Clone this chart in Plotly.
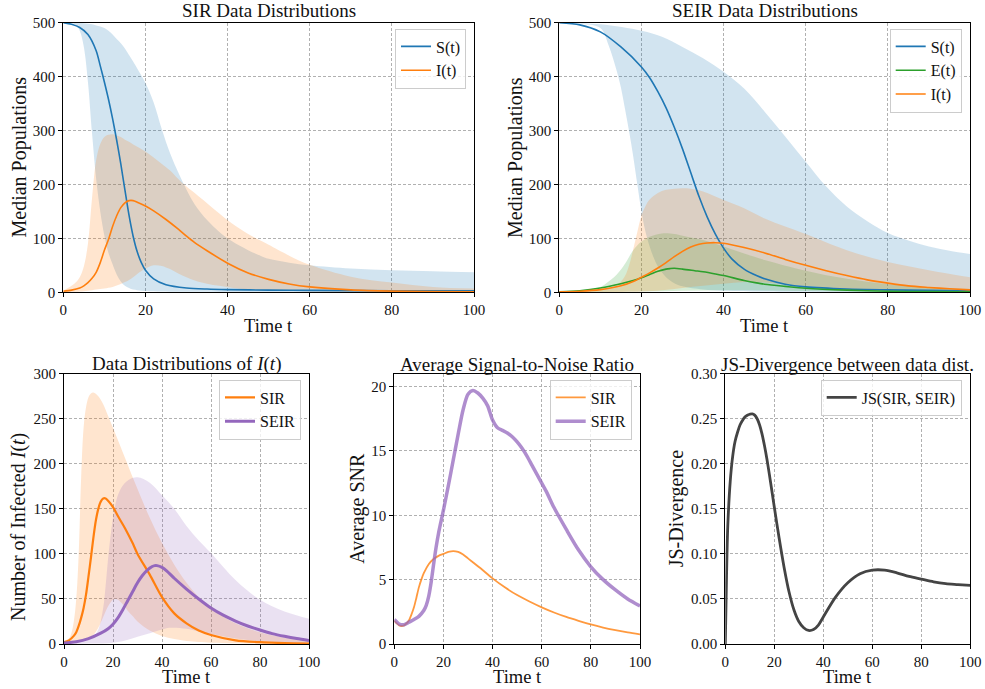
import plotly.graph_objects as go

# ---------------- data ----------------
# Top-left: SIR data distributions
sir_s_t = [0, 2, 4, 6, 8, 9, 10, 11, 12, 13, 14, 15, 16, 17, 18, 19, 20, 22, 25, 30, 35, 40, 50, 60, 80, 100]
sir_s_med = [500, 497, 491, 478, 448, 420, 390, 358, 322, 282, 238, 190, 143, 104, 75, 55, 41, 25, 14, 8, 6, 5, 4, 3.5, 3, 3]

sir_band_t = [0, 2, 3, 4, 5, 6, 7, 8, 9, 10, 11, 12, 13, 14, 15, 16, 17, 18, 20, 22, 24, 26, 28, 30, 32, 35, 38, 41,
              45, 48, 50, 55, 60, 70, 80, 90, 100]
sir_s_hi = [500, 500, 500, 500, 499, 498, 497, 495, 493, 490, 485, 478, 470, 462, 452, 440, 428, 415, 388, 352, 302,
            258, 222, 190, 163, 134, 112, 95, 78, 68, 62, 55, 50, 44, 41, 39, 37]
sir_s_lo = [500, 499, 496, 485, 455, 390, 295, 210, 150, 105, 73, 52, 33, 20, 12, 8, 5, 4, 2.5, 2, 1.5, 1.2, 1, 1, 1,
            0.8, 0.7, 0.6, 0.5, 0.5, 0.5, 0.5, 0.5, 0.5, 0.5, 0.5, 0.5]
sir_i_hi = [3, 12, 18, 28, 48, 90, 175, 245, 275, 288, 292, 293, 291, 288, 283, 279, 274, 270, 261, 250, 238, 226,
            210, 196, 184, 165, 146, 128, 108, 96, 88, 68, 51, 29, 18, 10, 7]
sir_i_lo = [0, 0.5, 1, 1.5, 2, 3, 4, 5, 6, 7, 8.5, 10, 12.5, 15.5, 19, 23, 28, 34, 44, 50, 49, 43, 35, 28, 22, 16, 12,
            8.5, 5.5, 4, 3.3, 2.2, 1.5, 0.8, 0.4, 0.2, 0.1]

sir_i_t = [0, 2, 4, 5, 6, 7, 8, 9, 10, 11, 12, 13, 14, 15, 16, 17, 18, 20, 22, 25, 28, 30, 32, 35, 40, 45, 50, 55, 60,
           70, 80, 90, 100]
sir_i_med = [2, 4, 8, 12, 18, 26, 37, 55, 78, 98, 122, 142, 157, 166, 170, 170, 167, 160, 151, 135, 117, 104, 92, 77,
             54, 36, 24, 15.5, 10, 4.5, 2.2, 1.3, 1]

# Top-right: SEIR data distributions
seir_s_t = [0, 5, 10, 15, 20, 22, 24, 26, 28, 30, 32, 34, 36, 38, 40, 42, 45, 48, 50, 55, 60, 70, 80, 90, 100]
seir_s_med = [500, 496, 483, 455, 418, 398, 372, 342, 306, 266, 222, 178, 140, 108, 82, 62, 43, 31, 25, 15, 10, 6,
              4.5, 3.5, 3]
seir_s_hi_t = [0, 10, 20, 25, 30, 35, 40, 45, 50, 55, 60, 65, 70, 75, 80, 85, 90, 95, 100]
seir_s_hi = [500, 497, 485, 474, 455, 434, 409, 378, 335, 289, 242, 196, 159, 132, 110, 96, 85, 77, 71]
seir_s_lo_t = [0, 5, 10, 12, 14, 15, 16, 17, 18, 19, 20, 21, 22, 23, 24, 26, 28, 30, 35, 40, 50, 60, 100]
seir_s_lo = [500, 498, 490, 458, 410, 380, 340, 298, 252, 200, 150, 112, 85, 64, 48, 28, 17, 11, 5, 3, 1.5, 1, 0.5]

seir_e_t = [0, 5, 10, 15, 18, 20, 22, 24, 26, 27, 28, 30, 33, 35, 38, 40, 45, 48, 50, 55, 60, 70, 80, 90, 100]
seir_e_med = [1, 3, 8, 16, 22, 27, 33, 39, 43, 44, 44.5, 43, 40, 38, 34, 31, 22, 17.5, 15, 11, 7.5, 4, 2, 1.3, 1]
seir_e_hi_t = [0, 5, 10, 12, 14, 16, 18, 20, 22, 25, 28, 30, 35, 40, 45, 50, 60, 70, 80, 90, 100]
seir_e_hi = [1, 3, 10, 20, 33, 53, 78, 94, 103, 109, 108, 105, 97, 85, 72, 60, 40, 25, 15, 9, 6]
seir_e_lo_t = [0, 10, 20, 30, 40, 50, 60, 70, 80, 100]
seir_e_lo = [0.3, 0.5, 1.5, 3, 4, 3.5, 2.5, 1.5, 1, 0.5]

seir_i_t = [0, 5, 10, 15, 18, 20, 22, 24, 26, 28, 30, 32, 34, 36, 38, 40, 45, 50, 55, 60, 65, 70, 75, 80, 85, 90, 95,
            100]
seir_i_med = [1, 2, 5, 12, 20, 28, 36, 45, 55, 66, 76, 84, 89, 91.5, 92, 91, 83, 73, 61, 50, 40, 31, 23, 17, 12, 9,
              6.5, 4.5]
seir_i_hi_t = [0, 5, 10, 12, 14, 15, 16, 17, 18, 19, 20, 21, 22, 24, 26, 28, 30, 32, 35, 40, 45, 50, 55, 60, 70, 80,
               90, 100]
seir_i_hi = [1, 2, 5, 8, 14, 20, 30, 50, 80, 112, 142, 160, 172, 184, 190, 192, 193, 192, 187, 171, 156, 137, 122,
             108, 78, 56, 41, 28]
seir_i_lo_t = [0, 10, 20, 25, 30, 35, 40, 45, 50, 55, 60, 70, 80, 90, 100]
seir_i_lo = [0.3, 0.5, 1.5, 4, 8, 12, 16, 19, 18, 15, 12, 6, 3, 1.5, 1]

# Bottom-left: data distributions of I(t)
bl_sir_t = [0, 2, 4, 5, 6, 7, 8, 9, 10, 11, 12, 13, 14, 15, 16, 17, 18, 20, 22, 25, 28, 30, 35, 40, 45, 50, 55, 60,
            70, 80, 90, 100]
bl_sir_med = [2, 4, 9, 13, 20, 29, 40, 55, 75, 96, 118, 137, 150, 158, 161.5, 161.5, 159, 152, 142, 128, 112, 100, 77,
              52, 34, 23, 15, 10, 4, 2, 1, 0.5]
bl_sir_hi_t = [0, 2, 3, 4, 5, 6, 7, 8, 9, 10, 11, 12, 14, 16, 18, 20, 25, 30, 35, 40, 45, 50, 55, 60, 70, 80, 90, 100]
bl_sir_hi = [3, 6, 12, 25, 50, 100, 185, 240, 263, 274, 278, 279, 275, 266, 253, 240, 206, 172, 140, 112, 88, 68, 52,
             40, 23, 13, 7, 4]
bl_sir_lo_t = [0, 5, 10, 12, 14, 16, 18, 20, 21, 22, 24, 26, 28, 30, 35, 40, 45, 50, 55, 60, 70, 80, 100]
bl_sir_lo = [0, 2, 7, 10, 18, 30, 42, 49, 50, 49, 44, 37, 31, 25, 15, 9, 5.5, 3.3, 2.2, 1.5, 0.8, 0.4, 0.1]

bl_seir_t = [0, 5, 10, 15, 18, 20, 22, 24, 26, 28, 30, 32, 34, 36, 37, 38, 40, 42, 45, 50, 55, 60, 65, 70, 75, 80, 85,
             90, 95, 100]
bl_seir_med = [1, 2.5, 6, 12, 17, 22, 29, 38, 48, 58, 68, 76, 82, 86, 87, 87, 85, 81, 73, 61, 50, 40, 32, 25.5, 20,
               15.5, 11.5, 8.5, 6, 4]
bl_seir_hi_t = [0, 5, 10, 12, 14, 16, 17, 18, 19, 20, 21, 22, 24, 27, 30, 35, 40, 45, 50, 55, 60, 70, 80, 90, 100]
bl_seir_hi = [1, 2, 5, 8, 16, 40, 65, 95, 120, 140, 155, 165, 176, 183, 185, 179, 165, 150, 131, 115, 101, 71, 49, 36,
              28]
bl_seir_lo_t = [0, 10, 20, 25, 30, 35, 40, 43, 50, 55, 60, 70, 80, 90, 100]
bl_seir_lo = [0.3, 0.5, 1.5, 4, 8, 12, 16, 18, 17, 14, 11, 6, 3, 1.5, 1]

# Bottom-middle: average SNR
snr_sir_t = [0, 1, 2, 3, 4, 5, 6, 7, 8, 9, 10, 11, 12, 14, 16, 18, 20, 22, 24, 26, 28, 30, 35, 40, 45, 50, 55, 60, 65,
             70, 75, 80, 85, 90, 95, 100]
snr_sir = [1.8, 1.6, 1.45, 1.4, 1.45, 1.6, 1.85, 2.3, 2.85, 3.6, 4.4, 5.0, 5.5, 6.2, 6.6, 6.85, 7.0, 7.15, 7.22, 7.15,
           6.95, 6.65, 5.9, 5.1, 4.4, 3.8, 3.3, 2.85, 2.45, 2.1, 1.8, 1.52, 1.28, 1.08, 0.9, 0.75]
snr_seir_t = [0, 2, 4, 6, 8, 10, 12, 13, 14, 15, 16, 17, 18, 20, 22, 24, 26, 28, 30, 32, 34, 36, 38, 40, 42, 44, 46,
              48, 50, 52, 54, 56, 58, 60, 62, 65, 70, 75, 80, 85, 90, 95, 100]
snr_seir = [1.9, 1.55, 1.5, 1.7, 1.9, 2.15, 2.6, 3.0, 3.7, 4.8, 6.2, 7.5, 8.6, 10.4, 12.3, 14.3, 16.3, 18.2, 19.4,
            19.7, 19.5, 19.1, 18.5, 17.4, 16.8, 16.6, 16.4, 16.1, 15.7, 15.2, 14.6, 13.9, 13.2, 12.5, 11.8, 10.6, 8.9,
            7.3, 6.0, 5.0, 4.2, 3.5, 2.95]

# Bottom-right: JS divergence
js_t = [0, 0.5, 1, 2, 3, 4, 5, 6, 7, 8, 9, 10, 11, 12, 13, 14, 15, 16, 17, 18, 19, 20, 22, 24, 26, 28, 30, 32, 34, 36,
        38, 40, 45, 50, 55, 60, 65, 70, 75, 80, 85, 90, 95, 100]
js_val = [0, 0.075, 0.13, 0.18, 0.208, 0.225, 0.235, 0.243, 0.248, 0.252, 0.254, 0.255, 0.2555, 0.254, 0.25, 0.243,
          0.233, 0.22, 0.205, 0.188, 0.17, 0.152, 0.117, 0.085, 0.058, 0.038, 0.025, 0.018, 0.015, 0.016, 0.021,
          0.03, 0.052, 0.068, 0.078, 0.082, 0.082, 0.079, 0.075, 0.072, 0.069, 0.067, 0.066, 0.065]

# ---------------- styling ----------------
W, H = 985, 689
FONT = "Liberation Serif"
TXT = "#111111"
BLUE, ORANGE, GREEN, PURPLE = "#1f77b4", "#ff7f0e", "#2ca02c", "#9467bd"


def rgba(hexc, a):
    h = hexc.lstrip("#")
    return "rgba(%d,%d,%d,%s)" % (int(h[0:2], 16), int(h[2:4], 16), int(h[4:6], 16), a)


def X(px):
    return px / W


def Y(py):
    return 1 - py / H


# axes boxes in pixels: (left, right, top, bottom)
boxes = [
    (63.3, 474.0, 22.7, 292.3),
    (559.3, 970.0, 22.7, 292.3),
    (64.0, 309.0, 373.7, 644.0),
    (394.3, 640.0, 373.7, 644.0),
    (725.3, 970.3, 373.7, 644.0),
]

fig = go.Figure()


def band(xs_lo, lo, xs_hi, hi, color, sub, alpha=0.2):
    xa = "x" if sub == 1 else "x%d" % sub
    ya = "y" if sub == 1 else "y%d" % sub
    fig.add_trace(go.Scatter(x=xs_lo, y=lo, mode="lines", line=dict(width=0, shape="spline", color=color),
                             showlegend=False, hoverinfo="skip", xaxis=xa, yaxis=ya))
    fig.add_trace(go.Scatter(x=xs_hi, y=hi, mode="lines", line=dict(width=0, shape="spline", color=color),
                             fill="tonexty", fillcolor=rgba(color, alpha), showlegend=False, hoverinfo="skip",
                             xaxis=xa, yaxis=ya))


def line(xs, ys, color, sub, name, legend, width=1.6):
    xa = "x" if sub == 1 else "x%d" % sub
    ya = "y" if sub == 1 else "y%d" % sub
    fig.add_trace(go.Scatter(x=xs, y=ys, mode="lines", name=name, legend=legend,
                             line=dict(color=color, width=width, shape="spline", smoothing=0.8),
                             xaxis=xa, yaxis=ya))


# panel 1
band(sir_band_t, sir_s_lo, sir_band_t, sir_s_hi, BLUE, 1)
band(sir_band_t, sir_i_lo, sir_band_t, sir_i_hi, ORANGE, 1)
line(sir_s_t, sir_s_med, BLUE, 1, "S(t)", "legend")
line(sir_i_t, sir_i_med, ORANGE, 1, "I(t)", "legend")

# panel 2
band(seir_s_lo_t, seir_s_lo, seir_s_hi_t, seir_s_hi, BLUE, 2)
band(seir_e_lo_t, seir_e_lo, seir_e_hi_t, seir_e_hi, GREEN, 2)
band(seir_i_lo_t, seir_i_lo, seir_i_hi_t, seir_i_hi, ORANGE, 2)
line(seir_s_t, seir_s_med, BLUE, 2, "S(t)", "legend2")
line(seir_e_t, seir_e_med, GREEN, 2, "E(t)", "legend2")
line(seir_i_t, seir_i_med, ORANGE, 2, "I(t)", "legend2")

# panel 3
band(bl_sir_lo_t, bl_sir_lo, bl_sir_hi_t, bl_sir_hi, ORANGE, 3)
band(bl_seir_lo_t, bl_seir_lo, bl_seir_hi_t, bl_seir_hi, PURPLE, 3)
line(bl_sir_t, bl_sir_med, ORANGE, 3, "SIR", "legend3", width=2.2)
line(bl_seir_t, bl_seir_med, PURPLE, 3, "SEIR", "legend3", width=3)

# panel 4
line(snr_sir_t, snr_sir, rgba(ORANGE, 0.8), 4, "SIR", "legend4", width=1.8)
line(snr_seir_t, snr_seir, rgba(PURPLE, 0.75), 4, "SEIR", "legend4", width=3.5)

# panel 5
line(js_t, js_val, "#444444", 5, "JS(SIR, SEIR)", "legend5", width=2.8)

layout = dict(width=W, height=H, autosize=False, margin=dict(l=0, r=0, t=0, b=0, autoexpand=False),
              plot_bgcolor="white", paper_bgcolor="white",
              font=dict(family=FONT, color=TXT, size=15), annotations=[])

yranges = [[0, 500], [0, 500], [0, 300], [0, 21.0], [0, 0.30]]
ydticks = [100, 100, 50, 5, 0.05]
for i, (l, r, t, b) in enumerate(boxes):
    k = "" if i == 0 else str(i + 1)
    common = dict(showline=True, mirror=True, linecolor="black", linewidth=1, ticks="outside", ticklen=4,
                  tickwidth=1, tickcolor="black", showgrid=True, gridcolor="#b0b0b0", griddash="3px,2px",
                  gridwidth=0.8, zeroline=False, automargin=False,
                  tickfont=dict(family=FONT, size=15, color=TXT))
    layout["xaxis" + k] = dict(domain=[X(l), X(r)], anchor="y" + k, range=[0, 100], tick0=0, dtick=20, **common)
    ya = dict(domain=[Y(b), Y(t)], anchor="x" + k, range=yranges[i], tick0=0, dtick=ydticks[i], **common)
    if i == 4:
        ya["tickformat"] = ".2f"
    layout["yaxis" + k] = ya

titles = ["SIR Data Distributions", "SEIR Data Distributions", "Data Distributions of <i>I</i>(<i>t</i>)",
          "Average Signal-to-Noise Ratio", "JS-Divergence between data dist."]
ylabels = ["Median Populations", "Median Populations", "Number of Infected <i>I</i>(<i>t</i>)", "Average SNR",
           "JS-Divergence"]
ylab_x = [19, 515.5, 18, 358, 676.5]
ylab_y = [157.5, 157.5, 527, 508.8, 508.8]
xlab_y = [325.5, 325.5, 677, 677, 677]
title_y = [11, 11, 364, 364, 364]

for i, (l, r, t, b) in enumerate(boxes):
    layout["annotations"].append(dict(text=titles[i], x=X((l + r) / 2), y=Y(title_y[i]), xref="paper",
                                      yref="paper", xanchor="center", yanchor="middle", showarrow=False,
                                      font=dict(family=FONT, size=19, color=TXT)))
    layout["annotations"].append(dict(text="Time t", x=X((l + r) / 2), y=Y(xlab_y[i]), xref="paper", yref="paper",
                                      xanchor="center", yanchor="middle", showarrow=False,
                                      font=dict(family=FONT, size=18.5, color=TXT)))
    layout["annotations"].append(dict(text=ylabels[i], x=X(ylab_x[i]), y=Y(ylab_y[i]), xref="paper", yref="paper",
                                      xanchor="center", yanchor="middle", showarrow=False, textangle=-90,
                                      font=dict(family=FONT, size=20, color=TXT)))

leg_common = dict(bgcolor="rgba(255,255,255,0.8)", bordercolor="#cccccc", borderwidth=1,
                  font=dict(family=FONT, size=16, color=TXT), xanchor="right", yanchor="top",
                  itemwidth=30, tracegroupgap=0, traceorder="normal")
legend_pos = [(466, 28.5), (961.7, 28.5), (301, 379.5), (631.7, 379.5), (961.7, 379.5)]
for i, (lx, ly) in enumerate(legend_pos):
    k = "legend" if i == 0 else "legend%d" % (i + 1)
    layout[k] = dict(x=X(lx), y=Y(ly), **leg_common)

fig.update_layout(**layout)
fig.write_html("out.html", config={"responsive": False, "displayModeBar": False},
               post_script="document.body.style.margin='0px';document.body.style.overflow='hidden';")
